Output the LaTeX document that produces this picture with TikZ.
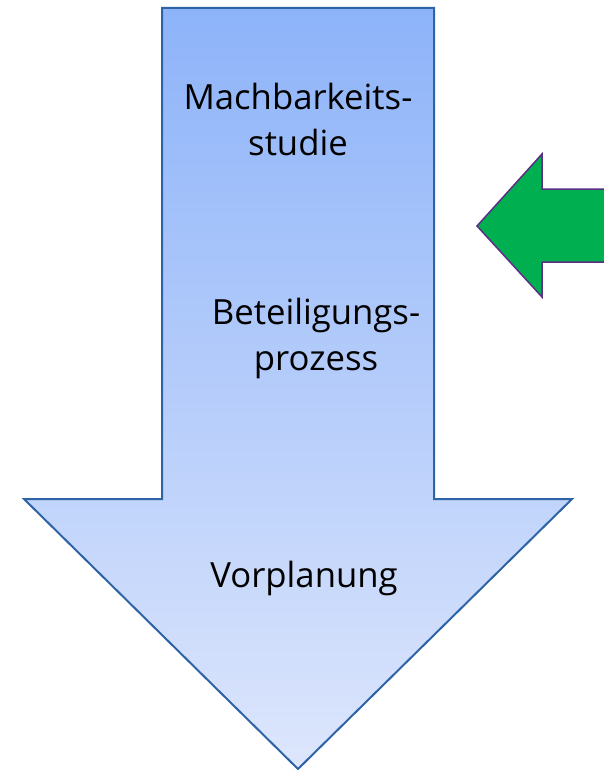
\documentclass[tikz,border=0pt]{standalone}
\usepackage{fontspec}
\setmainfont{Open Sans}
\definecolor{arrowtop}{HTML}{8DB3F9}
\definecolor{arrowbot}{HTML}{DDE6FC}
\definecolor{arrowline}{HTML}{2E63A6}
\definecolor{greenfill}{HTML}{00B050}
\definecolor{greenline}{HTML}{5C2D85}
\tikzset{
  label text/.style={align=center, font=\fontsize{34.7}{46}\selectfont, text=black, inner sep=0pt},
}
\begin{document}
\begin{tikzpicture}[x=1pt,y=-1pt]
\useasboundingbox (0,0) rectangle (604,770);
% big down arrow
\path[draw=arrowline, line width=2pt, line join=miter, top color=arrowtop, bottom color=arrowbot]
  (162,8) -- (434,8) -- (434,499) -- (572,499) -- (298,769) -- (24,499) -- (162,499) -- cycle;
% green left arrow
\path[draw=greenline, line width=1.5pt, fill=greenfill]
  (610,189) -- (542,189) -- (542,154) -- (477,226) -- (542,297) -- (542,262) -- (610,262);
\node[label text, anchor=base] (m) at (298,156) {Machbarkeits-\\studie};
\node[label text, anchor=base] (b) at (316,370) {Beteiligungs-\\prozess};
\node[label text, anchor=base] (v) at (304,587) {Vorplanung};
\end{tikzpicture}
\end{document}
